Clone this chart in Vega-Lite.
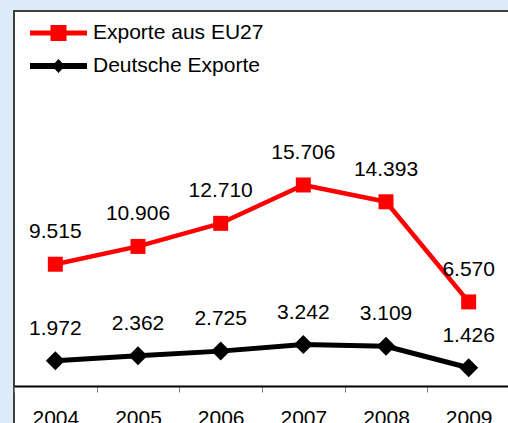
{
  "$schema": "https://vega.github.io/schema/vega-lite/v6.json",
  "autosize": "none",
  "width": 496,
  "height": 430,
  "padding": {"left": 14, "top": 11, "right": 0, "bottom": 0},
  "background": "#DDEBF8",
  "data": {
    "values": [
      {"year": "2004", "series": "Exporte aus EU27", "value": 9515},
      {"year": "2005", "series": "Exporte aus EU27", "value": 10906},
      {"year": "2006", "series": "Exporte aus EU27", "value": 12710},
      {"year": "2007", "series": "Exporte aus EU27", "value": 15706},
      {"year": "2008", "series": "Exporte aus EU27", "value": 14393},
      {"year": "2009", "series": "Exporte aus EU27", "value": 6570},
      {"year": "2004", "series": "Deutsche Exporte", "value": 1972},
      {"year": "2005", "series": "Deutsche Exporte", "value": 2362},
      {"year": "2006", "series": "Deutsche Exporte", "value": 2725},
      {"year": "2007", "series": "Deutsche Exporte", "value": 3242},
      {"year": "2008", "series": "Deutsche Exporte", "value": 3109},
      {"year": "2009", "series": "Deutsche Exporte", "value": 1426}
    ]
  },
  "encoding": {
    "x": {
      "field": "year",
      "type": "ordinal",
      "bandPosition": 0.5,
      "scale": {"type": "band", "paddingInner": 0, "paddingOuter": 0},
      "axis": {
        "title": null,
        "labelAngle": 0,
        "tickBand": "extent",
        "domainColor": "#000000",
        "domainWidth": 2,
        "tickColor": "#808080",
        "tickSize": 6,
        "tickWidth": 1,
        "labelFont": "Liberation Sans",
        "labelFontSize": 21,
        "labelColor": "#000000",
        "labelBaseline": "alphabetic",
        "labelPadding": 32,
        "offset": -55,
        "grid": false
      }
    },
    "y": {
      "field": "value",
      "type": "quantitative",
      "scale": {"domain": [0, 29300], "range": [375, 0], "nice": false, "zero": true},
      "axis": null
    },
    "color": {
      "field": "series",
      "type": "nominal",
      "scale": {"domain": ["Exporte aus EU27", "Deutsche Exporte"], "range": ["#FF0000", "#000000"]},
      "legend": {
        "title": null,
        "orient": "none",
        "legendX": 34,
        "legendY": 11.5,
        "padding": 0,
        "symbolSize": 400,
        "labelOffset": 24,
        "rowPadding": 11,
        "labelLimit": 400,
        "labelFont": "Liberation Sans",
        "labelFontSize": 21,
        "labelColor": "#000000",
        "encode": {
          "symbols": {
            "update": {
              "shape": {"signal": "datum.value === 'Exporte aus EU27' ? 'M-2.85,-0.25L2.85,-0.25L2.85,0.25L-2.85,0.25ZM-0.8,-0.8L0.8,-0.8L0.8,0.8L-0.8,0.8Z' : 'M-2.85,-0.3L2.85,-0.3L2.85,0.3L-2.85,0.3ZM-0.65,0L0,-0.7L0.65,0L0,0.7Z'"},
              "fill": {"signal": "datum.value === 'Exporte aus EU27' ? '#ff0000' : '#000000'"},
              "fillOpacity": {"value": 1},
              "opacity": {"value": 1},
              "strokeWidth": {"value": 0}
            }
          }
        }
      }
    }
  },
  "layer": [
    {
      "transform": [{"filter": "datum.series === 'Exporte aus EU27'"}],
      "mark": {"type": "line", "strokeWidth": 4.5, "strokeCap": "round", "strokeJoin": "round"}
    },
    {
      "transform": [{"filter": "datum.series === 'Deutsche Exporte'"}],
      "mark": {"type": "line", "strokeWidth": 5, "strokeCap": "round", "strokeJoin": "round"}
    },
    {
      "transform": [{"filter": "datum.series === 'Exporte aus EU27'"}],
      "mark": {"type": "point", "filled": true, "opacity": 1, "shape": "square", "size": 225}
    },
    {
      "transform": [{"filter": "datum.series === 'Deutsche Exporte'"}],
      "mark": {"type": "point", "filled": true, "opacity": 1, "shape": "diamond", "size": 361}
    },
    {
      "mark": {"type": "text", "dy": -26, "baseline": "alphabetic", "font": "Liberation Sans", "fontSize": 21, "color": "#000000"},
      "encoding": {
        "text": {"field": "value", "type": "quantitative", "format": ","},
        "color": {"value": "#000000"}
      }
    }
  ],
  "config": {
    "view": {"fill": "#FFFFFF", "stroke": "#404040", "strokeWidth": 2},
    "locale": {"number": {"decimal": ",", "thousands": ".", "grouping": [3], "currency": ["", " €"]}}
  }
}
